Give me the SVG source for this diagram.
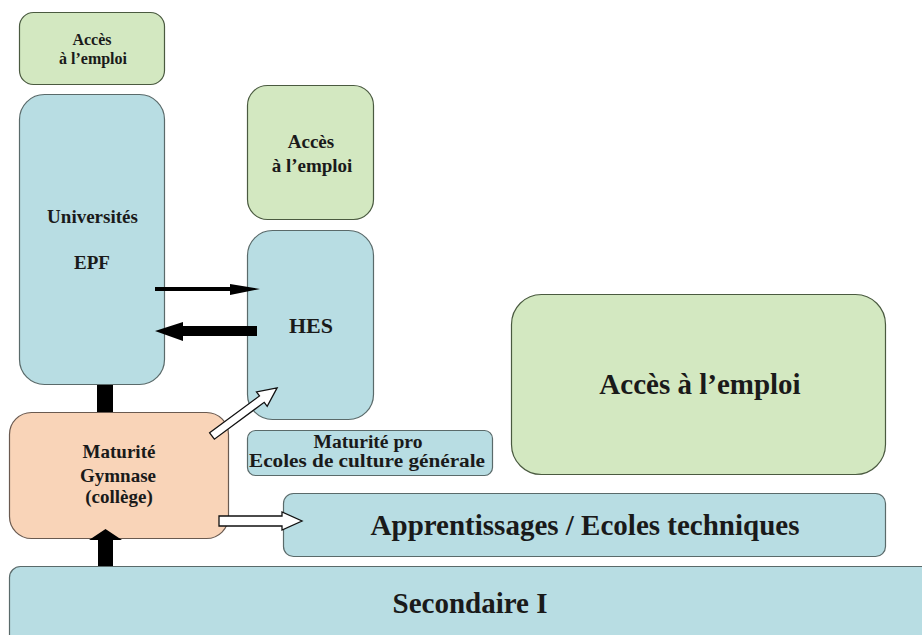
<svg xmlns="http://www.w3.org/2000/svg" width="922" height="635" viewBox="0 0 922 635">
<defs>
<style>
.b{fill:#b8dde3;stroke:#5a6a6a;stroke-width:1.2}
.g{fill:#d3e8c1;stroke:#4a5a40;stroke-width:1.2}
.o{fill:#f9d4b8;stroke:#6a5a50;stroke-width:1.2}
.h{fill:#fff;stroke:#111;stroke-width:1.3}
.t{font-family:Liberation Serif,serif;font-weight:700;fill:#1a1a1a;text-anchor:middle}
</style>
</defs>
<rect width="922" height="635" fill="#fff"/>
<g id="secondaire">
<rect class="b" x="9.5" y="566.5" width="930" height="80" rx="11"/>
<text class="t" x="470" y="613" font-size="29">Secondaire I</text>
</g>
<g id="apprentissages">
<rect class="b" x="283.5" y="493.5" width="602" height="63" rx="10"/>
<text class="t" x="585" y="535" font-size="29">Apprentissages / Ecoles techniques</text>
</g>
<g id="acces3">
<rect class="g" x="511.5" y="294.5" width="374" height="180" rx="30"/>
<text class="t" x="700" y="394" font-size="29">Accès à l’emploi</text>
</g>
<g id="maturitepro">
<rect class="b" x="247.5" y="430.5" width="245" height="45" rx="8"/>
<text class="t" x="368" y="448" font-size="18" textLength="109" lengthAdjust="spacingAndGlyphs">Maturité pro</text>
<text class="t" x="367" y="467" font-size="18" textLength="236" lengthAdjust="spacingAndGlyphs">Ecoles de culture générale</text>
</g>
<g id="acces1">
<rect class="g" x="19.5" y="12.5" width="145" height="72" rx="14"/>
<text class="t" x="92" y="45" font-size="16">Accès</text>
<text class="t" x="93" y="64" font-size="16">à l’emploi</text>
</g>
<g id="universites">
<rect class="b" x="19.5" y="94.5" width="145" height="290" rx="25"/>
<text class="t" x="92.5" y="223" font-size="19">Universités</text>
<text class="t" x="92" y="269" font-size="19">EPF</text>
</g>
<g id="acces2">
<rect class="g" x="247.5" y="85.5" width="126" height="134" rx="20"/>
<text class="t" x="311" y="148" font-size="19">Accès</text>
<text class="t" x="312" y="172" font-size="19">à l’emploi</text>
</g>
<g id="hes">
<rect class="b" x="247.5" y="230.5" width="126" height="189" rx="25"/>
<text class="t" x="311" y="333" font-size="22">HES</text>
</g>
<g id="maturite">
<rect class="o" x="9.5" y="412.5" width="219" height="126" rx="22"/>
<text class="t" x="119" y="458" font-size="19">Maturité</text>
<text class="t" x="118" y="482" font-size="19">Gymnase</text>
<text class="t" x="119" y="503" font-size="19">(collège)</text>
</g>
<g id="connectors">
<rect x="97" y="385" width="16" height="27" fill="#000"/>
<polygon points="98,566 113,566 113,540 122,540 105.5,529 89,540 98,540" fill="#000"/>
<polygon points="155,287 230,287 230,284 260,289 230,295 230,291 155,291" fill="#000"/>
<polygon points="257,326 183,326 183,322 155,331 183,341 183,336 257,336" fill="#000"/>
<polygon class="h" points="219,516 282,516 282,512 302,521 282,530 282,526 219,526"/>
<polygon class="h" transform="translate(212,436) rotate(-36.5)" points="0,-4 62,-4 62,-9 81,0 62,9 62,4 0,4"/>
</g>
</svg>
